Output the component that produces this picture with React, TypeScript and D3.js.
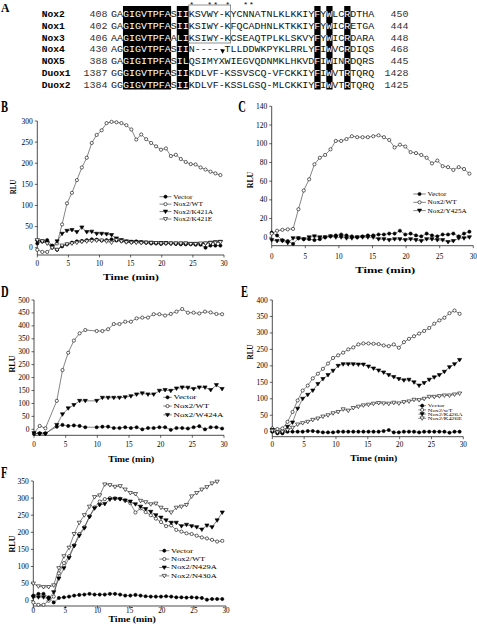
import React from 'react';
import * as d3 from 'd3';

const SERIF = "'Liberation Serif', 'Times New Roman', serif";
const MONO = "'Liberation Mono', 'Courier New', monospace";

// ---------------- Panel A: sequence alignment ----------------
const SEQ_NAMES = ['Nox2', 'Nox1', 'Nox3', 'Nox4', 'NOX5', 'Duox1', 'Duox2'];
const SEQ_START = ['408', '402', '406', '430', '388', '1387', '1384'];
const SEQ_END = ['450', '444', '448', '468', '445', '1428', '1425'];
const SEQUENCES = [
  'GAGIGVTPFASIIKSVWY-KYCNNATNLKLKKIYFYWLCRDTHA',
  'GAGIGVTPFASIIKSIWY-KFQCADHNLKTKKIYFYWICRETGA',
  'AAGIGVTPFAALIKSIWY-KCSEAQTPLKLSKVYFYWICRDARA',
  'AGGIGVTPFASIIN-----TLLDDWKPYKLRRLYFIWVCRDIQS',
  'GAGIGITPFASILQSIMYXWIEGVQDNMKLHKVDFIWINRDQRS',
  'GGGIGVTPFASIIKDLVF-KSSVSCQ-VFCKKIYFIWVTRTQRQ',
  'GGGIGVTPFASIIKDLVF-KSSLGSQ-MLCKKIYFIWVTRTQRQ',
];
const SHADED_COLS = [2, 3, 4, 5, 6, 7, 8, 9, 11, 12, 34, 36, 39];
const STAR_COLS = [13, 16, 17, 19, 22, 23];
const BOXED_COLS = [13, 20];
const BOXED_ROWS = 3;
const GAP_MARK_COL = 18;

// ---------------- Time points ----------------
const TIME_A = [0, 0.8, 1.59, 2.39, 3.18, 3.98, 4.77, 5.57, 6.36, 7.16, 7.95, 8.75, 9.54, 10.34, 11.13, 11.93, 12.72, 13.52, 14.31, 15.11, 15.9, 16.7, 17.49, 18.29, 19.08, 19.88, 20.67, 21.47, 22.26, 23.06, 23.85, 24.65, 25.44, 26.24, 27.03, 27.83, 28.62, 29.42];
const TIME_D = [0, 0.9, 1.8, 2.7, 3.6, 4.5, 5.4, 6.3, 7.2, 8.1, 9, 9.9, 10.8, 11.7, 12.6, 13.5, 14.4, 15.3, 16.2, 17.1, 18, 18.9, 19.8, 20.7, 21.6, 22.5, 23.4, 24.3, 25.2, 26.1, 27, 27.9, 28.8, 29.7];
const X_TICKS = [0, 5, 10, 15, 20, 25, 30];

// ---------------- Panel B ----------------
const B_VECTOR = [10, 15, 18, 5, -5, 3, 8, 12, 15, 16, 18, 20, 19, 17, 18, 20, 17, 16, 14, 13, 15, 13, 12, 10, 10, 9, 10, 10, 9, 8, 8, 8, 7, 7, 0, 5, 5, 5];
const B_WT = [-5, -10, -10, 0, 10, 55, 105, 130, 160, 190, 213, 248, 267, 278, 295, 298, 297, 295, 290, 280, 256, 268, 257, 248, 240, 232, 235, 217, 220, 210, 203, 198, 197, 190, 185, 180, 176, 172];
const B_K421A = [15, 15, 12, 3, 15, 33, 40, 42, 37, 48, 37, 38, 33, 33, 32, 30, 22, 18, 15, 14, 13, 13, 12, 12, 11, 11, 11, 10, 10, 10, 10, 9, 9, 9, 10, 12, 13, 14];
const B_K421E = [18, 15, 10, 0, -5, 5, 8, 10, 12, 14, 15, 16, 17, 17, 15, 12, 18, 15, 13, 12, 12, 11, 12, 11, 11, 10, 10, 10, 10, 10, 10, 9, 9, 10, 10, 11, 12, 13];
const B_LABELS = ['Vector', 'Nox2/WT', 'Nox2/K421A', 'Nox2/K421E'];
const B_TICKS = [0, 50, 100, 150, 200, 250, 300];

// ---------------- Panel C ----------------
const C_VECTOR = [5, 2, -3, -4, -7, -1, -2, -2, -3, -2, 0, 1, 2, 3, 2, 1, 0, 1, 2, 2, 3, 3, 4, 4, 7, 3, 4, 2, 1, 4, 2, 1, 3, 3, 4, 1, 4, 6];
const C_WT = [4, 7, 8, 8.5, 9, 30, 50, 62, 78, 85, 88, 94, 103, 103, 105, 108, 107, 107, 107, 108, 109, 107, 104, 96, 99, 97, 91, 90, 88, 85, 79, 82, 76, 75, 72, 75, 73, 68];
const C_Y425A = [-3, -4, -4, -6, -1, -1, -2, 0, 1, 0, 0, 1, 0, 0, -1, -1, 0, 0, 0, 0, -2, -2, -3, -2, -2, -3, -2, -3, -4, -2, -2, -3, -3, -5, -4, -1, -1, 0];
const C_LABELS = ['Vector', 'Nox2/WT', 'Nox2/Y425A'];
const C_TICKS = [0, 20, 40, 60, 80, 100, 120, 140];

// ---------------- Panel D ----------------
const D_VECTOR = [-18, -15, -15, null, 10, 17, 13, 15, 13, 8, null, 8, 10, 10, 5, 5, 8, 5, 8, 0, 5, 5, 8, 8, -2, 5, 5, 3, 8, 12, 0, 8, 8, 3];
const D_WT = [-15, 13, 4, null, 110, 229, 296, 343, 371, 384, null, 380, 380, 387, 407, 407, 416, 416, 429, 432, 432, 445, 445, 440, 446, 455, 465, 451, 451, 448, 455, 452, 446, 445];
const D_W424A = [-15, -18, -18, null, 17, 58, 81, 94, 110, 110, null, 110, 122, 122, 122, 122, 124, 128, 135, 139, 135, 135, 149, 152, 149, 158, 162, 161, 156, 162, 162, 152, 171, 156];
const D_LABELS = ['Vector', 'Nox2/WT', 'Nox2/W424A'];
const D_TICKS = [0, 50, 100, 150, 200, 250, 300, 350, 400, 450, 500];

// ---------------- Panel E ----------------
const E_VECTOR = [0, -5, -5, 0, 0, 0, 0, 2, 2, 0, -2, -2, -2, 0, 0, 0, 0, 0, 0, 0, 0, 0, 2, 5, -2, -2, 0, 0, 0, -2, 0, 0, 0, 0, 0, -3, 0, 0];
const E_WT = [10, 8, 10, 30, 60, 95, 125, 140, 162, 176, 191, 207, 224, 232, 240, 250, 256, 265, 268, 268, 267, 266, 262, 260, 265, 255, 272, 282, 290, 298, 306, 315, 328, 338, 346, 360, 368, 358];
const E_K426A = [5, -2, -3, 15, 28, 70, 100, 112, 125, 145, 160, 172, 185, 200, 205, 205, 205, 204, 204, 198, 192, 186, 180, 172, 166, 160, 156, 158, 150, 140, 148, 158, 165, 172, 182, 196, 205, 218];
const E_K426E = [3, -2, 0, 5, 12, 22, 26, 30, 36, 40, 46, 50, 56, 60, 68, 64, 72, 76, 80, 82, 85, 87, 86, 85, 88, 86, 90, 92, 97, 96, 100, 106, 106, 108, 110, 110, 113, 116];
const E_LABELS = ['Vector', 'Nox2/wT', 'Nox2/K426A', 'Nox2/K426E'];
const E_TICKS = [0, 50, 100, 150, 200, 250, 300, 350, 400];

// ---------------- Panel F ----------------
const F_VECTOR = [15, 20, 20, 10, -5, 8, 10, 12, 15, 17, 18, 20, 18, 18, 18, 20, 20, 18, 15, 15, 17, 15, 13, 12, 12, 12, 13, 12, 10, 10, 9, 10, 9, 8, 3, 5, 5, 5];
const F_WT = [-5, -12, -12, 0, 12, 80, 110, 130, 162, 195, 215, 247, 273, 290, 297, 300, 299, 298, 293, 285, 258, 270, 259, 250, 240, 230, 218, 220, 207, 202, 197, 195, 190, 185, 182, 178, 173, 175];
const F_N429A = [10, 10, 10, 5, 25, 65, 95, 125, 160, 190, 212, 245, 270, 280, 283, 296, 298, 297, 293, 290, 282, 275, 268, 260, 250, 243, 235, 228, 228, 218, 222, 218, 215, 208, 220, 215, 235, 258];
const F_N430A = [50, 42, 40, 40, 45, 95, 130, 155, 195, 228, 250, 275, 303, 308, 340, 338, 333, 335, 325, 315, 312, 292, 288, 282, 284, 272, 265, 258, 272, 275, 280, 305, 315, 325, 332, 343, 348, null];
const F_LABELS = ['Vector', 'Nox2/WT', 'Nox2/N429A', 'Nox2/N430A'];
const F_TICKS = [0, 50, 100, 150, 200, 250, 300, 350];

type Marker = 'fc' | 'oc' | 'ft' | 'ot';
interface Series { label: string; values: (number | null)[]; marker: Marker }
interface PanelCfg {
  letter: string; lx: number; ly: number;
  x0: number; x30: number; y0: number; yTop: number; yMax: number; axisY: number;
  ticks: number[]; times: number[]; series: Series[];
  xLabY: number; titleX: number; titleY: number; titleW: number;
  rluX: number; rluY: number; rluW: number;
  legX: number; legW: number; legY: number; legDy: number; legFont: number; legSx: number;
}

const mk = (labels: string[], vals: (number | null)[][], markers: Marker[]): Series[] =>
  labels.map((l, i) => ({ label: l, values: vals[i], marker: markers[i] }));

const PANELS: PanelCfg[] = [
  {
    letter: 'B', lx: 1, ly: 111.7, x0: 37.3, x30: 224, y0: 247.7, yTop: 121, yMax: 300, axisY: 255,
    ticks: B_TICKS, times: TIME_A,
    series: mk(B_LABELS, [B_VECTOR, B_WT, B_K421A, B_K421E], ['fc', 'oc', 'ft', 'ot']),
    xLabY: 266, titleX: 131, titleY: 279.5, titleW: 56, rluX: 13.5, rluY: 187, rluW: 14.5,
    legX: 159.5, legW: 12, legY: 196.7, legDy: 7.45, legFont: 6, legSx: 1.22,
  },
  {
    letter: 'C', lx: 238.3, ly: 111.7, x0: 271.7, x30: 473.3, y0: 237.3, yTop: 106.3, yMax: 140, axisY: 245.7,
    ticks: C_TICKS, times: TIME_A,
    series: mk(C_LABELS, [C_VECTOR, C_WT, C_Y425A], ['fc', 'oc', 'ft']),
    xLabY: 258.5, titleX: 385.3, titleY: 273, titleW: 60, rluX: 250, rluY: 180, rluW: 16.5,
    legX: 413.3, legW: 12.5, legY: 194, legDy: 8.3, legFont: 6, legSx: 1.2,
  },
  {
    letter: 'D', lx: 1, ly: 297, x0: 34, x30: 224, y0: 429.3, yTop: 300, yMax: 500, axisY: 435.3,
    ticks: D_TICKS, times: TIME_D,
    series: mk(D_LABELS, [D_VECTOR, D_WT, D_W424A], ['fc', 'oc', 'ft']),
    xLabY: 447, titleX: 131.2, titleY: 462, titleW: 46, rluX: 12.5, rluY: 364, rluW: 17,
    legX: 163.3, legW: 8.5, legY: 397.3, legDy: 8.8, legFont: 6.5, legSx: 1.35,
  },
  {
    letter: 'E', lx: 241, ly: 297, x0: 272.3, x30: 463.3, y0: 431.7, yTop: 300, yMax: 400, axisY: 436.7,
    ticks: E_TICKS, times: TIME_A,
    series: mk(E_LABELS, [E_VECTOR, E_WT, E_K426A, E_K426E], ['fc', 'oc', 'ft', 'ot']),
    xLabY: 447, titleX: 373.7, titleY: 460.5, titleW: 47, rluX: 250, rluY: 352, rluW: 15,
    legX: 418.3, legW: 7.7, legY: 405.7, legDy: 4.2, legFont: 5, legSx: 1.28,
  },
  {
    letter: 'F', lx: 1, ly: 478, x0: 33.3, x30: 226, y0: 600.7, yTop: 481, yMax: 350, axisY: 606,
    ticks: F_TICKS, times: TIME_A,
    series: mk(F_LABELS, [F_VECTOR, F_WT, F_N429A, F_N430A], ['fc', 'oc', 'ft', 'ot']),
    xLabY: 612.8, titleX: 132.2, titleY: 622, titleW: 47.5, rluX: 12.5, rluY: 544, rluW: 17,
    legX: 159.3, legW: 10, legY: 550.7, legDy: 8.4, legFont: 6, legSx: 1.4,
  },
];

function MarkerShape({ m, cx, cy }: { m: Marker; cx: number; cy: number }) {
  if (m === 'fc' || m === 'oc') {
    return <circle cx={cx} cy={cy} r={1.6} fill={m === 'fc' ? '#000' : '#fff'} stroke="#000" strokeWidth={0.6} />;
  }
  const d = `M${cx - 2.1},${cy - 1.5}L${cx + 2.1},${cy - 1.5}L${cx},${cy + 2}Z`;
  return <path d={d} fill={m === 'ft' ? '#000' : '#fff'} stroke="#000" strokeWidth={0.6} />;
}

function Panel({ cfg }: { cfg: PanelCfg }) {
  const x = d3.scaleLinear().domain([0, 30]).range([cfg.x0, cfg.x30]);
  const y = d3.scaleLinear().domain([0, cfg.yMax]).range([cfg.y0, cfg.yTop]);
  const line = d3.line<[number, number]>().x((d) => x(d[0])).y((d) => y(d[1]));
  const pts = (s: Series) =>
    s.values
      .map((v, i) => [cfg.times[i], v] as [number, number | null])
      .filter((p) => p[1] !== null) as [number, number][];
  return (
    <g>
      <text transform={`translate(${cfg.lx},${cfg.ly}) scale(0.62,1)`} fontFamily={SERIF} fontWeight="bold" fontSize={17}>
        {cfg.letter}
      </text>
      <line x1={cfg.x0} y1={cfg.yTop} x2={cfg.x0} y2={cfg.axisY} stroke="#000" strokeWidth={0.7} />
      <line x1={cfg.x0} y1={cfg.axisY} x2={cfg.x30} y2={cfg.axisY} stroke="#000" strokeWidth={0.7} />
      {cfg.ticks.map((t) => (
        <g key={'yt' + t}>
          <line x1={cfg.x0 - 2.5} x2={cfg.x0} y1={y(t)} y2={y(t)} stroke="#000" strokeWidth={0.6} />
          <text x={cfg.x0 - 4.5} y={y(t) + 2.5} textAnchor="end" fontFamily={SERIF} fontSize={7.5}>{t}</text>
        </g>
      ))}
      {X_TICKS.map((t) => (
        <g key={'xt' + t}>
          <line x1={x(t)} x2={x(t)} y1={cfg.axisY} y2={cfg.axisY + 2.5} stroke="#000" strokeWidth={0.6} />
          <text x={x(t)} y={cfg.xLabY} textAnchor="middle" fontFamily={SERIF} fontSize={7.2}>{t}</text>
        </g>
      ))}
      <text x={cfg.titleX} y={cfg.titleY} textAnchor="middle" fontFamily={SERIF} fontWeight="bold" fontSize={8.2}
        textLength={cfg.titleW} lengthAdjust="spacingAndGlyphs">Time (min)</text>
      <text transform={`translate(${cfg.rluX},${cfg.rluY}) rotate(-90)`} x={0} y={2.7} textAnchor="middle"
        fontFamily={SERIF} fontWeight="bold" fontSize={7.5} textLength={cfg.rluW} lengthAdjust="spacingAndGlyphs">RLU</text>
      {cfg.series.map((s) => (
        <path key={'l' + s.label} d={line(pts(s)) || ''} fill="none" stroke="#333" strokeWidth={0.6} />
      ))}
      {cfg.series.map((s) => (
        <g key={'m' + s.label}>
          {pts(s).map((p, i) => (
            <MarkerShape key={i} m={s.marker} cx={x(p[0])} cy={y(p[1])} />
          ))}
        </g>
      ))}
      {cfg.series.map((s, i) => {
        const ly = cfg.legY + i * cfg.legDy;
        return (
          <g key={'lg' + s.label}>
            <line x1={cfg.legX} x2={cfg.legX + cfg.legW} y1={ly} y2={ly} stroke="#333" strokeWidth={0.6} />
            <MarkerShape m={s.marker} cx={cfg.legX + cfg.legW / 2} cy={ly} />
            <text transform={`translate(${cfg.legX + cfg.legW + 1.8},${ly + cfg.legFont * 0.33}) scale(${cfg.legSx},1)`}
              fontFamily={SERIF} fontSize={cfg.legFont}>{s.label}</text>
          </g>
        );
      })}
    </g>
  );
}

function Alignment() {
  const cw = 5.98;
  const colX = (i: number) => 111 + cw * i;
  const rowC = (k: number) => 13.3 + 11.85 * k;
  const shade = new Set(SHADED_COLS);
  return (
    <g>
      <text transform="translate(1,12) scale(0.9,1)" fontFamily={SERIF} fontWeight="bold" fontSize={13}>A</text>
      {SHADED_COLS.map((c) => (
        <rect key={'sh' + c} x={colX(c)} y={6} width={cw + 0.3} height={83.5} fill="#000" />
      ))}
      <rect x={colX(BOXED_COLS[0])} y={5} width={colX(BOXED_COLS[1]) - colX(BOXED_COLS[0])}
        height={rowC(BOXED_ROWS - 1) - 5 + 1 + 5} fill="none" stroke="#777" strokeWidth={0.8} />
      {STAR_COLS.map((c) => (
        <text key={'st' + c} x={colX(c) + cw / 2} y={7.2} textAnchor="middle" fontFamily={MONO} fontSize={8}>*</text>
      ))}
      {SEQUENCES.map((seq, k) => {
        const yb = rowC(k) + 3.6;
        return (
          <g key={'row' + k}>
            <text x={41.7} y={yb} fontFamily={MONO} fontWeight="bold" fontSize={9.6}>{SEQ_NAMES[k]}</text>
            <text x={107.5} y={yb} textAnchor="end" fontFamily={MONO} fontSize={9.97} fill="#333">{SEQ_START[k]}</text>
            {seq.split('').map((ch, i) => (
              <text key={i} x={colX(i)} y={yb} fontFamily={MONO} fontSize={9.97} fill={shade.has(i) ? '#fff' : '#111'}>{ch}</text>
            ))}
            <text x={408.5} y={yb} textAnchor="end" fontFamily={MONO} fontSize={9.97} fill="#333">{SEQ_END[k]}</text>
          </g>
        );
      })}
      {(() => {
        const cx = colX(GAP_MARK_COL) + 4;
        const cy = 51.5;
        return <path d={`M${cx - 2.3},${cy - 2}L${cx + 2.3},${cy - 2}L${cx},${cy + 2.3}Z`} fill="#000" />;
      })()}
    </g>
  );
}

export default function App() {
  return (
    <svg width={477} height={631} style={{ position: 'absolute', left: 0, top: 0, background: '#fff' }}>
      <rect x={0} y={0} width={477} height={631} fill="#fff" />
      <Alignment />
      {PANELS.map((p) => (
        <Panel key={p.letter} cfg={p} />
      ))}
    </svg>
  );
}
